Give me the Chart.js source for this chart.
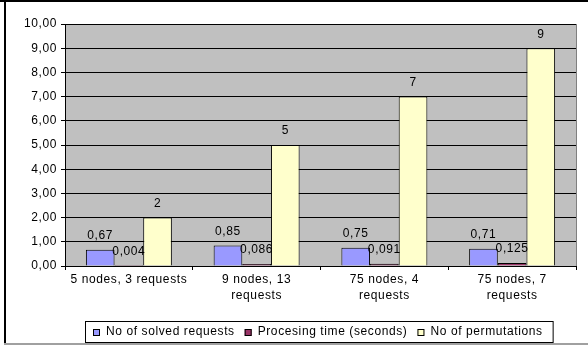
<!DOCTYPE html>
<html>
<head>
<meta charset="utf-8">
<script src="https://cdn.jsdelivr.net/npm/chart.js@4/dist/chart.umd.min.js"></script>
<style>
html,body{margin:0;padding:0;background:#fff;}
#wrap{width:588px;height:347px;position:relative;}
</style>
</head>
<body>
<div id="wrap"><canvas id="c" width="588" height="347"></canvas></div>
<script>
const categories = [
  ["5 nodes, 3 requests"],
  ["9 nodes, 13", "requests"],
  ["75 nodes, 4", "requests"],
  ["75 nodes, 7", "requests"]
];
const solvedRequests = [0.67, 0.85, 0.75, 0.71];
const processingTime = [0.004, 0.086, 0.091, 0.125];
const permutations = [2, 5, 7, 9];
const seriesNames = ["No of solved requests", "Procesing time (seconds)", "No of permutations"];
const yMin = 0, yMax = 10, yStep = 1;

const FONT = "'Liberation Sans', Arial, sans-serif";
const SPACING = '0.6px';
const fmt = v => String(v).replace('.', ',');

const bgPlugin = {
  id: 'bg',
  beforeLayout(chart) { chart.ctx.letterSpacing = SPACING; },
  beforeDraw(chart) {
    const {ctx, chartArea: a} = chart;
    ctx.letterSpacing = SPACING;
    ctx.save();
    ctx.fillStyle = '#fff';
    ctx.fillRect(0, 0, chart.width, chart.height);
    ctx.fillStyle = '#C0C0C0';
    ctx.fillRect(a.left, a.top, a.right - a.left, a.bottom - a.top);
    ctx.strokeStyle = '#808080';
    ctx.lineWidth = 1;
    ctx.beginPath();
    ctx.moveTo(a.right + 0.5, a.top);
    ctx.lineTo(a.right + 0.5, a.bottom);
    ctx.stroke();
    ctx.restore();
  },
  afterDraw(chart) {
    const ctx = chart.ctx;
    ctx.save();
    ctx.letterSpacing = SPACING;
    // data labels
    ctx.font = '12px ' + FONT;
    ctx.fillStyle = '#000';
    ctx.textAlign = 'center';
    ctx.textBaseline = 'middle';
    chart.data.datasets.forEach((ds, i) => {
      const meta = chart.getDatasetMeta(i);
      meta.data.forEach((bar, j) => {
        ctx.fillText(fmt(ds.data[j]), bar.x, bar.y - 14);
      });
    });
    // outer border
    ctx.fillStyle = '#000';
    ctx.fillRect(0, 0, chart.width, 2);
    ctx.fillRect(4, 0, 2, 344);
    ctx.fillStyle = '#a0a0a0';
    ctx.fillRect(4, 343, chart.width - 4, 2);
    // legend
    ctx.font = '12px ' + FONT;
    ctx.textAlign = 'left';
    const boxS = 7, gapBT = 6, gapItems = 10, padL = 8, padR = 10;
    const items = chart.data.datasets.map(ds => ({label: ds.label, color: ds.backgroundColor, w: ctx.measureText(ds.label).width}));
    let total = padL + padR;
    items.forEach((it, k) => { total += boxS + gapBT + it.w + (k < items.length - 1 ? gapItems : 0); });
    const cx = 319, top = 321, bottom = 342;
    let x = Math.round(cx - total / 2);
    ctx.strokeStyle = '#000';
    ctx.lineWidth = 1;
    ctx.strokeRect(x + 0.5, top + 0.5, total, bottom - top);
    const cy = (top + bottom) / 2 + 0.5;
    let px = x + padL;
    items.forEach(it => {
      ctx.fillStyle = it.color;
      ctx.fillRect(px, Math.round(cy - boxS / 2), boxS, boxS);
      ctx.strokeRect(px + 0.5, Math.round(cy - boxS / 2) + 0.5, boxS - 1, boxS - 1);
      ctx.fillStyle = '#000';
      ctx.textBaseline = 'middle';
      ctx.fillText(it.label, px + boxS + gapBT, cy);
      px += boxS + gapBT + it.w + gapItems;
    });
    ctx.restore();
  }
};

new Chart(document.getElementById('c'), {
  type: 'bar',
  data: {
    labels: categories,
    datasets: [
      {label: seriesNames[0], data: solvedRequests, backgroundColor: '#9999FF', borderColor: '#000', borderWidth: 1},
      {label: seriesNames[1], data: processingTime, backgroundColor: '#993366', borderColor: '#000', borderWidth: 1},
      {label: seriesNames[2], data: permutations, backgroundColor: '#FFFFCC', borderColor: '#000', borderWidth: 1}
    ]
  },
  options: {
    responsive: false,
    animation: false,
    devicePixelRatio: 1,
    layout: {padding: {left: 0, right: 12, top: 24, bottom: 0}},
    datasets: {bar: {categoryPercentage: 0.673, barPercentage: 1}},
    plugins: {legend: {display: false}, tooltip: {enabled: false}, title: {display: false}},
    scales: {
      x: {
        grid: {display: true, drawOnChartArea: false, drawTicks: true, tickLength: 4, color: '#000', offset: true},
        border: {display: true, color: '#000', width: 1},
        ticks: {color: '#000', font: {family: FONT, size: 12, lineHeight: 1.3}, padding: 2, maxRotation: 0, autoSkip: false},
        afterFit(s) { s.height = 81; }
      },
      y: {
        min: yMin, max: yMax,
        grid: {color: '#000', lineWidth: 1, drawTicks: true, tickLength: 4},
        border: {display: true, color: '#000', width: 1},
        ticks: {stepSize: yStep, color: '#000', font: {family: FONT, size: 12}, padding: 4,
          callback: v => v.toFixed(2).replace('.', ',')},
        afterFit(s) { s.width = 65; }
      }
    }
  },
  plugins: [bgPlugin]
});
</script>
</body>
</html>
